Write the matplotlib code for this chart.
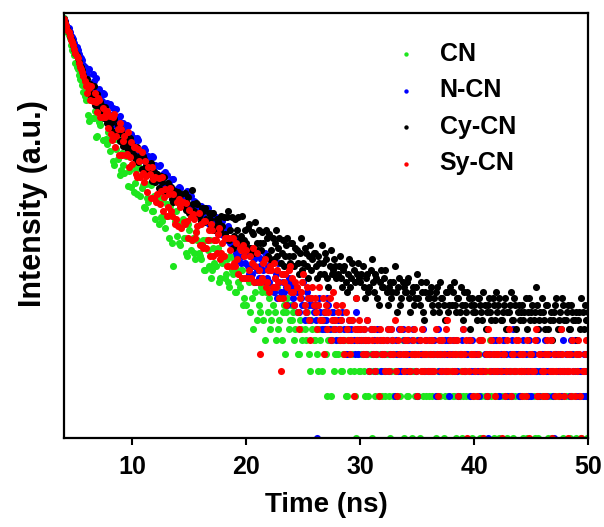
import matplotlib

matplotlib.use("Agg")
import matplotlib.pyplot as plt
import numpy as np

# TRPL decay counts, one value per 0.1 ns bin starting at 4.0 ns
T_START = 4.0
T_STEP = 0.1

cn = [
    1010, 920, 860, 800, 770, 725, 655, 600, 590, 550, 485, 455, 440, 395, 372, 365, 336, 300, 282, 262,
    280, 206, 187, 272, 282, 196, 196, 220, 143, 146, 214, 184, 174, 205, 137, 136, 197, 138, 128, 154,
    114, 140, 150, 96, 90, 138, 118, 100, 135, 76, 83, 110, 90, 79, 105, 110, 64, 81, 87, 63,
    90, 58, 67, 83, 56, 86, 87, 54, 62, 65, 45, 44, 66, 52, 49, 66, 65, 42, 42, 54,
    37, 53, 49, 34, 54, 38, 36, 51, 39, 32, 47, 39, 27, 46, 40, 25, 17, 36, 42, 28,
    35, 25, 24, 35, 37, 27, 27, 21, 20, 34, 31, 22, 26, 27, 21, 19, 30, 26, 21, 20,
    19, 24, 26, 16, 16, 26, 22, 17, 26, 14, 16, 23, 18, 17, 22, 23, 13, 14, 19, 18,
    20, 14, 15, 19, 13, 12, 20, 16, 15, 19, 11, 11, 16, 13, 12, 16, 16, 9, 10, 14,
    9, 14, 13, 8, 14, 10, 6, 13, 11, 7, 13, 9, 8, 12, 11, 7, 5, 11, 12, 8,
    10, 6, 7, 9, 11, 8, 5, 12, 6, 7, 10, 5, 8, 9, 4, 8, 10, 6, 7, 9,
    7, 8, 5, 6, 8, 4, 4, 7, 6, 5, 9, 6, 5, 8, 7, 4, 3, 7, 6, 5,
    5, 6, 4, 3, 6, 5, 3, 6, 7, 4, 4, 2, 5, 6, 2, 5, 6, 3, 4, 4,
    4, 5, 6, 3, 3, 4, 5, 2, 2, 5, 4, 3, 5, 4, 3, 2, 1, 5, 4, 3,
    3, 4, 5, 3, 2, 5, 4, 2, 3, 4, 1, 3, 5, 2, 4, 3, 2, 4, 3, 2,
    4, 3, 2, 4, 3, 2, 1, 3, 5, 2, 3, 4, 2, 3, 4, 2, 3, 5, 1, 3,
    3, 2, 2, 3, 4, 1, 3, 4, 2, 3, 5, 2, 1, 4, 3, 2, 4, 3, 2, 4,
    2, 3, 4, 2, 3, 4, 1, 2, 3, 3, 2, 4, 4, 1, 2, 3, 3, 2, 5, 3,
    3, 2, 2, 4, 1, 3, 4, 2, 3, 1, 2, 3, 3, 2, 4, 3, 2, 4, 1, 2,
    2, 3, 3, 2, 4, 1, 2, 3, 1, 2, 3, 4, 2, 3, 5, 2, 3, 1, 2, 3,
    3, 2, 1, 3, 2, 3, 4, 2, 3, 1, 2, 3, 3, 2, 1, 4, 2, 3, 4, 2,
    2, 3, 3, 1, 2, 3, 1, 2, 4, 2, 3, 4, 2, 1, 3, 2, 1, 3, 2, 2,
    3, 2, 2, 3, 4, 1, 2, 3, 1, 2, 2, 4, 3, 2, 2, 3, 4, 2, 1, 3,
    2, 3, 3, 2, 1, 2, 2, 4, 3, 1, 4, 3, 2, 2, 1, 3, 3, 2, 2, 1,
    3,
]

n_cn = [
    1000, 960, 905, 870, 860, 800, 760, 745, 715, 670, 640, 625, 600, 560, 535, 525, 505, 470, 452, 430,
    395, 440, 438, 345, 330, 402, 358, 320, 376, 279, 282, 316, 283, 260, 295, 289, 224, 237, 252, 209,
    248, 201, 205, 230, 186, 175, 227, 198, 185, 203, 155, 155, 180, 159, 152, 175, 170, 129, 133, 149,
    123, 141, 136, 115, 141, 137, 112, 110, 113, 98, 120, 116, 90, 100, 104, 86, 91, 104, 102, 81,
    90, 77, 74, 88, 90, 68, 74, 78, 64, 80, 76, 61, 68, 63, 60, 71, 72, 54, 58, 61,
    55, 63, 62, 50, 48, 56, 54, 47, 59, 44, 45, 54, 46, 44, 50, 49, 39, 39, 45, 44,
    46, 37, 39, 44, 36, 44, 44, 34, 37, 38, 32, 33, 37, 38, 32, 29, 37, 33, 29, 36,
    28, 31, 31, 26, 33, 31, 25, 25, 26, 27, 27, 21, 20, 26, 23, 18, 20, 22, 23, 18,
    21, 17, 15, 20, 23, 15, 17, 19, 13, 16, 20, 14, 17, 19, 14, 16, 21, 13, 14, 17,
    13, 16, 18, 12, 11, 14, 15, 10, 18, 13, 11, 15, 13, 11, 15, 12, 9, 14, 13, 11,
    12, 10, 9, 12, 11, 8, 8, 11, 10, 9, 13, 7, 8, 11, 10, 9, 7, 10, 9, 8,
    9, 7, 1, 9, 10, 8, 6, 7, 8, 6, 7, 10, 9, 6, 5, 8, 8, 7, 6, 5,
    7, 6, 5, 7, 8, 5, 6, 4, 4, 6, 7, 5, 6, 7, 5, 4, 8, 6, 4, 5,
    6, 5, 4, 6, 5, 4, 7, 5, 3, 6, 6, 4, 5, 3, 4, 6, 6, 5, 3, 4,
    5, 4, 3, 5, 6, 3, 4, 6, 5, 4, 2, 5, 4, 3, 6, 4, 3, 6, 5, 4,
    4, 3, 5, 4, 3, 5, 6, 4, 4, 3, 2, 5, 5, 4, 4, 6, 3, 4, 5, 3,
    3, 4, 5, 3, 4, 5, 2, 4, 6, 3, 4, 5, 3, 4, 5, 3, 4, 5, 2, 4,
    4, 5, 3, 4, 5, 3, 2, 4, 4, 5, 6, 3, 3, 4, 4, 5, 2, 3, 5, 4,
    3, 4, 4, 3, 2, 5, 5, 3, 3, 4, 4, 2, 1, 4, 4, 3, 5, 4, 3, 5,
    4, 3, 2, 4, 3, 5, 5, 3, 4, 2, 3, 4, 2, 5, 6, 3, 3, 4, 4, 2,
    2, 3, 4, 5, 3, 4, 3, 2, 5, 3, 2, 4, 4, 3, 3, 5, 6, 2, 3, 4,
    3, 4, 5, 3, 2, 3, 4, 5, 3, 2, 1, 4, 4, 3, 3, 4, 2, 3, 5, 3,
    4, 3, 3, 4, 2, 5, 4, 3, 5, 2, 3, 4, 2, 3, 3, 2, 4, 3, 2, 4,
    3,
]

cy_cn = [
    1000, 950, 880, 845, 800, 750, 715, 690, 655, 610, 575, 550, 525, 490, 462, 450, 430, 395, 372, 365,
    374, 297, 307, 341, 274, 277, 331, 241, 266, 289, 221, 226, 253, 240, 211, 194, 234, 222, 180, 179,
    165, 195, 184, 156, 191, 155, 152, 174, 153, 133, 164, 151, 123, 131, 143, 119, 125, 141, 141, 112,
    125, 106, 101, 120, 122, 94, 99, 105, 84, 105, 100, 81, 89, 83, 78, 90, 93, 69, 73, 80,
    68, 77, 78, 62, 61, 75, 68, 60, 74, 55, 57, 67, 59, 59, 63, 51, 49, 59, 58, 51,
    58, 48, 50, 56, 46, 47, 57, 43, 48, 53, 41, 41, 60, 47, 42, 40, 48, 47, 39, 40,
    36, 44, 42, 35, 44, 37, 36, 41, 37, 33, 41, 41, 31, 33, 37, 36, 34, 31, 39, 33,
    38, 29, 27, 38, 42, 26, 31, 38, 23, 28, 37, 24, 31, 38, 26, 28, 39, 24, 26, 31,
    25, 32, 34, 23, 22, 30, 29, 21, 35, 25, 22, 31, 25, 22, 30, 25, 19, 31, 27, 20,
    29, 19, 22, 27, 19, 25, 31, 20, 23, 27, 18, 21, 26, 17, 20, 24, 27, 20, 18, 25,
    25, 20, 17, 23, 22, 18, 15, 21, 27, 16, 18, 23, 21, 17, 14, 20, 24, 16, 19, 21,
    21, 17, 14, 20, 18, 15, 24, 18, 15, 21, 19, 14, 12, 17, 22, 15, 16, 19, 17, 14,
    15, 17, 20, 14, 12, 16, 17, 13, 11, 15, 19, 12, 14, 18, 16, 13, 10, 15, 18, 14,
    13, 15, 17, 12, 10, 14, 15, 11, 12, 16, 19, 13, 11, 15, 14, 10, 9, 13, 16, 12,
    12, 14, 16, 11, 9, 12, 13, 10, 11, 13, 17, 11, 8, 12, 14, 9, 10, 13, 12, 11,
    11, 13, 14, 10, 8, 11, 12, 9, 10, 12, 15, 10, 9, 13, 11, 8, 7, 11, 13, 10,
    10, 11, 12, 9, 8, 10, 11, 12, 9, 8, 13, 10, 10, 9, 7, 11, 11, 8, 9, 12,
    9, 11, 13, 9, 8, 10, 10, 8, 12, 9, 7, 11, 9, 8, 11, 10, 6, 9, 10, 8,
    9, 8, 7, 10, 10, 9, 8, 7, 11, 9, 6, 8, 9, 10, 8, 7, 10, 9, 7, 11,
    8, 9, 10, 7, 7, 8, 9, 10, 6, 8, 8, 9, 11, 7, 7, 10, 9, 6, 8, 9,
    7, 8, 9, 7, 8, 10, 6, 8, 10, 7, 8, 9, 7, 8, 12, 9, 6, 7, 8, 10,
    8, 7, 6, 9, 9, 6, 7, 8, 5, 7, 8, 9, 10, 6, 7, 8, 6, 10, 9, 7,
    7, 8, 9, 6, 6, 9, 8, 7, 7, 8, 5, 7, 8, 6, 10, 8, 6, 9, 7, 7,
    8,
]

sy_cn = [
    1000, 940, 890, 840, 810, 760, 705, 680, 650, 605, 570, 545, 522, 485, 455, 440, 420, 390, 362, 330,
    294, 336, 323, 265, 330, 260, 259, 294, 256, 216, 271, 264, 199, 200, 229, 199, 197, 213, 220, 167,
    202, 149, 137, 199, 207, 122, 145, 164, 107, 180, 162, 106, 134, 145, 106, 108, 154, 87, 102, 132,
    92, 122, 122, 78, 74, 118, 96, 74, 111, 79, 68, 96, 75, 58, 87, 78, 52, 87, 72, 52,
    74, 49, 56, 73, 47, 59, 74, 42, 53, 61, 39, 45, 56, 62, 42, 39, 56, 34, 37, 49,
    33, 51, 45, 32, 49, 35, 34, 48, 36, 27, 43, 38, 26, 40, 37, 27, 30, 33, 41, 24,
    34, 24, 23, 36, 36, 23, 26, 31, 20, 34, 31, 20, 26, 26, 21, 29, 32, 19, 21, 25,
    20, 27, 27, 17, 17, 27, 22, 17, 27, 18, 17, 25, 19, 15, 23, 22, 14, 24, 20, 14,
    22, 14, 16, 20, 14, 18, 23, 13, 17, 21, 13, 16, 4, 13, 14, 18, 19, 12, 13, 16,
    11, 17, 16, 12, 18, 14, 12, 16, 13, 10, 3, 15, 10, 13, 15, 9, 12, 16, 17, 11,
    14, 11, 9, 13, 12, 8, 6, 10, 11, 13, 15, 9, 8, 12, 10, 7, 5, 10, 12, 9,
    10, 8, 6, 9, 12, 7, 7, 10, 4, 8, 9, 6, 8, 10, 5, 7, 11, 6, 7, 9,
    8, 6, 5, 7, 9, 5, 4, 8, 6, 5, 7, 4, 5, 7, 2, 6, 10, 5, 6, 7,
    6, 5, 4, 6, 5, 4, 7, 5, 3, 6, 5, 4, 6, 3, 4, 5, 2, 6, 5, 4,
    5, 4, 3, 5, 6, 3, 4, 6, 5, 4, 7, 3, 2, 5, 4, 6, 6, 4, 3, 5,
    4, 5, 6, 3, 3, 4, 5, 6, 4, 3, 2, 4, 5, 3, 6, 4, 3, 5, 4, 3,
    5, 4, 3, 5, 4, 3, 6, 4, 2, 5, 4, 3, 5, 4, 3, 6, 7, 3, 4, 5,
    3, 4, 5, 3, 4, 5, 2, 4, 4, 3, 6, 4, 3, 5, 1, 3, 5, 4, 4, 2,
    4, 3, 2, 4, 5, 3, 3, 5, 1, 3, 4, 2, 6, 4, 3, 5, 4, 3, 2, 4,
    3, 4, 5, 3, 1, 4, 4, 2, 3, 5, 6, 3, 2, 4, 4, 3, 3, 5, 5, 3,
    4, 3, 2, 4, 3, 2, 5, 3, 1, 4, 4, 3, 3, 5, 6, 2, 2, 4, 4, 3,
    2, 3, 4, 2, 5, 4, 3, 5, 1, 3, 4, 2, 3, 4, 2, 3, 6, 4, 3, 2,
    3, 4, 1, 3, 4, 2, 5, 3, 2, 4, 3, 5, 4, 2, 1, 3, 3, 4, 5, 3,
    4,
]

SERIES = [
    ("CN", cn, "#1ee61e"),
    ("N-CN", n_cn, "#0000ff"),
    ("Cy-CN", cy_cn, "#000000"),
    ("Sy-CN", sy_cn, "#ff0000"),
]


def main() -> None:
    plt.rcParams["font.family"] = ["Liberation Sans", "DejaVu Sans"]
    plt.rcParams["font.weight"] = "bold"

    fig = plt.figure(figsize=(6.04, 5.27), dpi=100)
    ax = fig.add_axes([0.106, 0.169, 0.868, 0.806])

    for label, counts, color in SERIES:
        t = T_START + T_STEP * np.arange(len(counts))
        ax.scatter(t, counts, s=26, color=color, linewidths=0, label=label)

    ax.set_yscale("log")
    ax.set_xlim(4, 50)
    ax.set_ylim(1, 1100)
    ax.yaxis.set_major_locator(matplotlib.ticker.NullLocator())
    ax.yaxis.set_minor_locator(matplotlib.ticker.NullLocator())
    ax.set_xticks([10, 20, 30, 40, 50])
    ax.tick_params(axis="x", direction="out", length=5, width=1.5, labelsize=18, pad=7)
    for side in ax.spines.values():
        side.set_linewidth(1.6)

    ax.set_xlabel("Time (ns)", fontsize=20, fontweight="bold", labelpad=10)
    ax.set_ylabel("Intensity (a.u.)", fontsize=22, fontweight="bold")
    ax.yaxis.set_label_coords(-0.03, 0.552)

    leg = ax.legend(loc="upper left", bbox_to_anchor=(0.585, 0.986), frameon=False,
                    fontsize=18, markerscale=0.62, handlelength=1.0, handletextpad=0.86,
                    labelspacing=0.5, borderpad=0.4)
    for text in leg.get_texts():
        text.set_fontweight("bold")

    fig.savefig("out.png", dpi=100)
    plt.close(fig)


if __name__ == "__main__":
    main()
